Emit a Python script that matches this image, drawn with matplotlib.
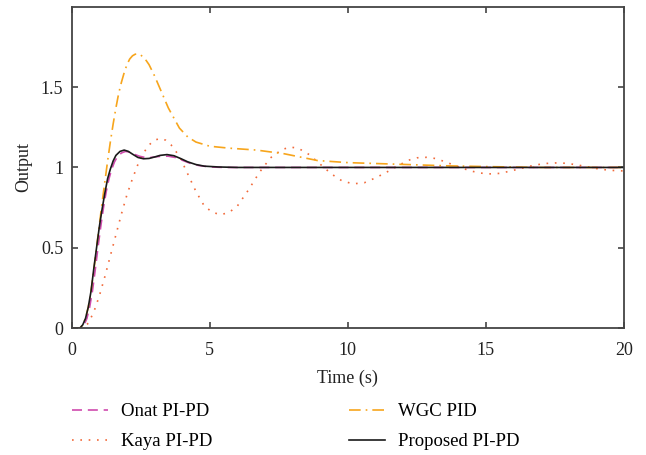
import matplotlib.pyplot as plt

plt.rcParams['font.family'] = ['Liberation Serif', 'DejaVu Serif']

# Onat PI-PD
t_onat = [0, 0.35, 0.45, 0.55, 0.65, 0.75, 0.85, 0.95, 1.05, 1.15, 1.25, 1.35, 1.45,
          1.55, 1.65, 1.8, 1.95, 2.1, 2.25, 2.45, 2.65, 2.85, 3.05, 3.25, 3.5, 3.75,
          4.0, 4.3, 4.6, 5.0, 5.5, 6.0, 20]
y_onat = [0, 0, 0.02, 0.06, 0.13, 0.23, 0.36, 0.5, 0.63, 0.75, 0.85, 0.93, 0.99,
          1.035, 1.065, 1.09, 1.10, 1.095, 1.083, 1.07, 1.062, 1.062, 1.066, 1.07,
          1.07, 1.062, 1.045, 1.025, 1.012, 1.003, 1.0, 1.0, 1.0]

# Kaya PI-PD
t_kaya = [0, 0.4, 0.6, 0.8, 1.0, 1.2, 1.4, 1.6, 1.8, 2.0, 2.2, 2.4, 2.6, 2.8, 3.0,
          3.2, 3.4, 3.6, 3.9, 4.2, 4.5, 4.8, 5.1, 5.4, 5.7, 6.0, 6.4, 6.8, 7.2, 7.6,
          7.9, 8.2, 8.6, 9.0, 9.4, 9.8, 10.2, 10.6, 11.0, 11.4, 11.8, 12.2, 12.5,
          12.85, 13.2, 13.6, 14.0, 14.4, 14.8, 15.15, 15.5, 15.9, 16.3, 16.7, 17.1,
          17.5, 17.9, 18.3, 18.7, 19.1, 19.5, 20]
y_kaya = [0, 0, 0.03, 0.1, 0.2, 0.32, 0.45, 0.58, 0.71, 0.83, 0.93, 1.02, 1.09,
          1.14, 1.17, 1.18, 1.17, 1.14, 1.07, 0.96, 0.85, 0.76, 0.72, 0.706, 0.72,
          0.76, 0.86, 0.97, 1.06, 1.11, 1.127, 1.12, 1.08, 1.02, 0.96, 0.915, 0.898,
          0.905, 0.935, 0.97, 1.01, 1.045, 1.06, 1.063, 1.055, 1.03, 1.005, 0.98,
          0.965, 0.96, 0.963, 0.978, 0.995, 1.012, 1.024, 1.028, 1.026, 1.016,
          1.003, 0.99, 0.982, 0.978]

# WGC PID
t_wgc = [0, 0.3, 0.4, 0.5, 0.6, 0.7, 0.8, 0.9, 1.0, 1.1, 1.2, 1.3, 1.4, 1.5, 1.6,
         1.7, 1.8, 1.9, 2.0, 2.1, 2.2, 2.3, 2.4, 2.5, 2.6, 2.7, 2.8, 3.0, 3.2, 3.5,
         3.9, 4.2, 4.5, 5.0, 5.7, 6.7, 7.7, 8.9, 10.0, 11.8, 13.6, 15.1, 17.0, 20]
y_wgc = [0, 0, 0.02, 0.06, 0.13, 0.23, 0.36, 0.5, 0.64, 0.78, 0.91, 1.04, 1.16,
         1.27, 1.37, 1.46, 1.53, 1.59, 1.64, 1.675, 1.695, 1.705, 1.707, 1.70,
         1.685, 1.665, 1.64, 1.57, 1.49, 1.37, 1.245, 1.19, 1.158, 1.132, 1.12,
         1.108, 1.085, 1.043, 1.03, 1.02, 1.01, 1.005, 1.0, 1.0]

# Proposed PI-PD
t_prop = [0, 0.3, 0.4, 0.5, 0.6, 0.7, 0.8, 0.9, 1.0, 1.1, 1.2, 1.3, 1.4, 1.5, 1.6,
          1.75, 1.9, 2.05, 2.2, 2.4, 2.6, 2.8, 3.0, 3.2, 3.45, 3.7, 3.95, 4.2, 4.5,
          4.8, 5.3, 6.0, 8.0, 20]
y_prop = [0, 0, 0.02, 0.06, 0.13, 0.23, 0.37, 0.5, 0.63, 0.74, 0.84, 0.93, 0.99,
          1.04, 1.075, 1.10, 1.108, 1.10, 1.083, 1.062, 1.054, 1.056, 1.065, 1.075,
          1.08, 1.073, 1.055, 1.035, 1.018, 1.008, 1.003, 1.0, 1.0, 1.0]

fig = plt.figure(figsize=(6.46, 4.55), dpi=100)
ax = fig.add_axes([0.111, 0.279, 0.855, 0.706])

ax.plot(t_onat, y_onat, color='#d04aae', lw=1.2, linestyle=(0, (6, 3.5)), label='Onat PI-PD')
ax.plot(t_kaya, y_kaya, color='#f26a3a', lw=1.2, linestyle=(0, (1, 4)), label='Kaya PI-PD')
ax.plot(t_wgc, y_wgc, color='#f7a51c', lw=1.2, linestyle=(0, (7, 3, 1, 3)), label='WGC PID')
ax.plot(t_prop, y_prop, color='#1a1a1a', lw=1.2, label='Proposed PI-PD')

ax.set_xlim(0, 20)
ax.set_ylim(0, 2)
ax.set_xticks([0, 5, 10, 15, 20])
ax.set_yticks([0, 0.5, 1, 1.5])
ax.set_yticklabels(['0', '0.5', '1', '1.5'])
ax.tick_params(direction='in', top=True, right=True, length=4, width=1.2,
               color='#444444', labelsize=13, labelcolor='#222222')
ax.tick_params(axis='x', pad=10)
ax.tick_params(axis='y', pad=6)
for s in ax.spines.values():
    s.set_color('#444444')
    s.set_linewidth(1.3)

ax.set_xlabel('Time (s)', fontsize=13, color='#222222', labelpad=8)
ax.set_ylabel('Output', fontsize=13, color='#222222', labelpad=6)

fig.legend(loc='upper left', bbox_to_anchor=(0.091, 0.143), ncol=2, frameon=False,
           fontsize=13.5, handlelength=1.9, handletextpad=0.7, columnspacing=7.3,
           labelspacing=0.7, borderpad=0.2)

fig.savefig('out.png', dpi=100)
